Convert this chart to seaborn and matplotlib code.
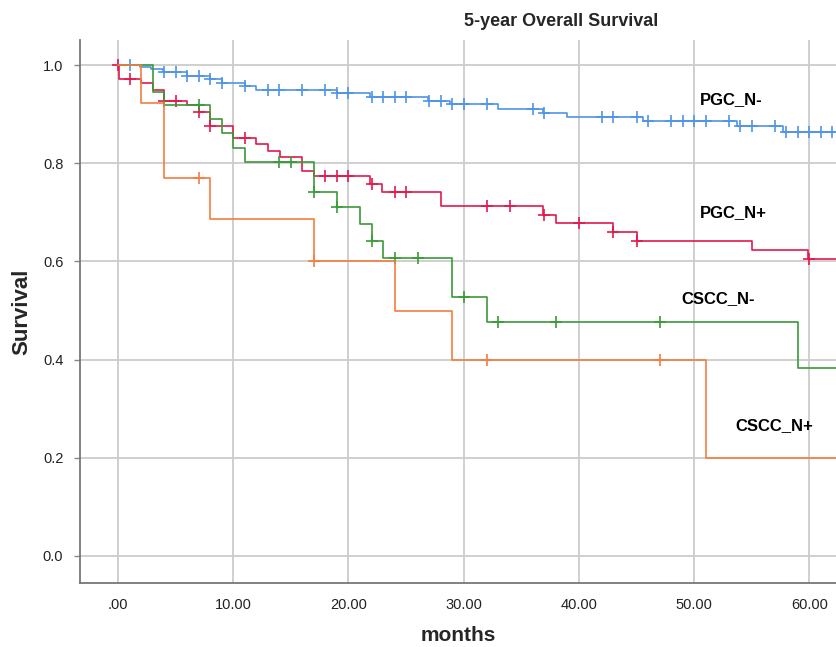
import numpy as np
import pandas as pd
import matplotlib
matplotlib.use("Agg")
import matplotlib.pyplot as plt
import seaborn as sns

# ---- data ----
groups = ["PGC_N-", "PGC_N+", "CSCC_N-", "CSCC_N+"]

pgc_neg_t = [0, 1.9, 2.9, 3.9, 6.0, 8.0, 9.0, 11.0, 12.0, 19.0, 21.9, 26.9, 28.8, 33.0, 36.9, 39.0, 45.6, 53.7, 57.7]
pgc_neg_s = [1.0, 0.997, 0.991, 0.986, 0.977, 0.971, 0.964, 0.957, 0.949, 0.944, 0.934, 0.927, 0.920, 0.910, 0.903, 0.895, 0.886, 0.876, 0.863]
pgc_neg_c = [1, 4, 5, 6, 7, 8, 9, 11, 13, 14, 16, 18, 19, 20, 22, 23, 24, 25, 27, 28, 29, 30, 32, 36, 37,
             42, 43, 45, 46, 48, 49, 50, 51, 53, 54, 55, 57, 58, 59, 60, 61, 62]

pgc_pos_t = [0, 0.1, 2, 3, 4, 6, 7, 8, 10, 12, 13, 14.1, 16, 17, 21.9, 22.9, 28, 36.9, 38, 43, 45, 55, 59.9]
pgc_pos_s = [1.0, 0.971, 0.964, 0.949, 0.927, 0.918, 0.904, 0.876, 0.852, 0.839, 0.825, 0.812, 0.785, 0.773,
             0.757, 0.741, 0.712, 0.695, 0.678, 0.659, 0.642, 0.623, 0.604]
pgc_pos_c = [0, 1, 4, 5, 7, 8, 11, 18, 19, 20, 22, 24, 25, 32, 34, 37, 40, 43, 45, 60]

cscc_neg_t = [0, 3, 4, 8, 9, 10, 11, 17, 19, 21, 22, 23, 29, 32, 59]
cscc_neg_s = [1.0, 0.946, 0.918, 0.890, 0.862, 0.832, 0.803, 0.742, 0.711, 0.676, 0.642, 0.606, 0.527, 0.477, 0.382]
cscc_neg_c = [7, 14, 15, 17, 19, 22, 24, 26, 30, 33, 38, 47]

cscc_pos_t = [0, 2, 4, 8, 17, 24, 29, 51]
cscc_pos_s = [1.0, 0.923, 0.769, 0.686, 0.601, 0.500, 0.400, 0.200]
cscc_pos_c = [7, 17, 32, 47]

x_end = 62.5
x_ticks = [0, 10, 20, 30, 40, 50, 60]
x_ticklabels = [".00", "10.00", "20.00", "30.00", "40.00", "50.00", "60.00"]
y_ticks = [0.0, 0.2, 0.4, 0.6, 0.8, 1.0]
y_ticklabels = ["0.0", "0.2", "0.4", "0.6", "0.8", "1.0"]

series = {
    "PGC_N-": (pgc_neg_t, pgc_neg_s, pgc_neg_c),
    "PGC_N+": (pgc_pos_t, pgc_pos_s, pgc_pos_c),
    "CSCC_N-": (cscc_neg_t, cscc_neg_s, cscc_neg_c),
    "CSCC_N+": (cscc_pos_t, cscc_pos_s, cscc_pos_c),
}
colors = {"PGC_N-": "#4f94e6", "PGC_N+": "#e2194c", "CSCC_N-": "#3a9a3a", "CSCC_N+": "#f47d3f"}
label_pos = {"PGC_N-": (50.5, 0.93), "PGC_N+": (50.5, 0.70), "CSCC_N-": (48.9, 0.525), "CSCC_N+": (53.6, 0.265)}

# build tidy frames
rows, crow = [], []
for g in groups:
    t, s, c = series[g]
    for ti, si in zip(t, s):
        rows.append((g, ti, si))
    rows.append((g, x_end, s[-1]))
    tt = np.array(t)
    for ci in c:
        idx = np.searchsorted(tt, ci, side="right") - 1
        crow.append((g, ci, s[idx]))
df = pd.DataFrame(rows, columns=["group", "months", "survival"])
cdf = pd.DataFrame(crow, columns=["group", "months", "survival"])

sns.set_style("white")
plt.rcParams["font.family"] = ["Liberation Sans", "DejaVu Sans"]

fig = plt.figure(figsize=(8.37, 6.47), dpi=100)
ax = fig.add_axes([80 / 837, 1 - 583 / 647, 1 - 80 / 837, (583 - 40) / 647])

for g in groups:
    sub = df[df.group == g]
    sns.lineplot(data=sub, x="months", y="survival", drawstyle="steps-post",
                 color=colors[g], lw=1.2, ax=ax, legend=False, estimator=None, sort=False)
    csub = cdf[cdf.group == g]
    ax.plot(csub.months, csub.survival, ls="none", marker="+", ms=8, mew=1.2, color=colors[g])
    ax.text(*label_pos[g], g, fontsize=12, fontweight="bold", color="black", ha="left", va="center")

ax.set_xlim(-3.3, 62.4)
ax.set_ylim(-0.055, 1.051)
ax.set_xticks(x_ticks)
ax.set_xticklabels(x_ticklabels)
ax.set_yticks(y_ticks)
ax.set_yticklabels(y_ticklabels)
for lab in ax.get_xticklabels() + ax.get_yticklabels():
    lab.set_fontsize(10.5)
    lab.set_color("#222222")
ax.tick_params(axis="x", length=0, pad=11)
ax.tick_params(axis="y", length=4, width=1, color="#888888", pad=8, left=True)
ax.grid(True, color="#cccccc", lw=1.3)
ax.set_axisbelow(True)
for side in ["top", "right"]:
    ax.spines[side].set_visible(False)
for side in ["left", "bottom"]:
    ax.spines[side].set_color("#777777")
    ax.spines[side].set_linewidth(1.3)

ax.set_xlabel("months", fontsize=15, fontweight="bold")
ax.set_ylabel("Survival", fontsize=16, fontweight="bold")
ax.xaxis.set_label_coords(0.5, -0.08)
ax.yaxis.set_label_coords(-0.063, 0.5)
fig.text(561 / 837, 1 - 22 / 647, "5-year Overall Survival", fontsize=13, fontweight="bold",
         ha="center", va="center")

fig.savefig("out.png", dpi=100)
